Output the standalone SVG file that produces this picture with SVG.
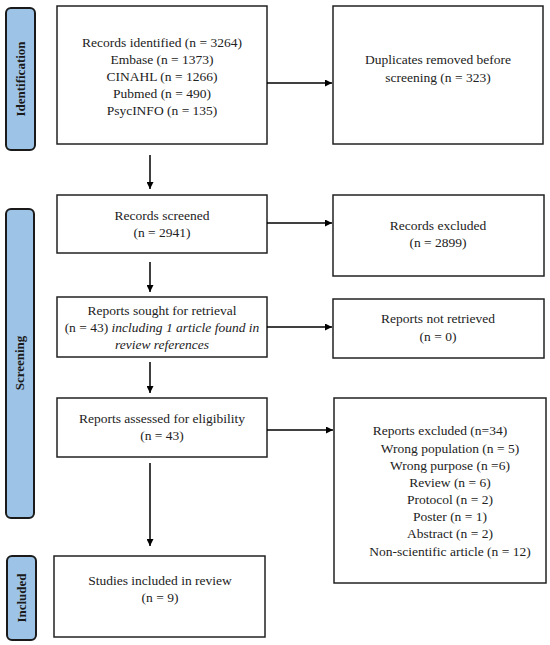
<svg xmlns="http://www.w3.org/2000/svg" width="550" height="645" viewBox="0 0 550 645">
<defs>
<style>
.box{fill:#fff;stroke:#222;stroke-width:1.5}
.side{fill:#9dc3e6;stroke:#1a1a1a;stroke-width:2}
.t{font-family:"Liberation Serif",serif;font-size:13.5px;fill:#222;text-anchor:middle}
.s{font-family:"Liberation Serif",serif;font-size:13px;font-weight:bold;fill:#1a1a1a;text-anchor:middle}
.c{stroke:#000;stroke-width:1.5;fill:none}
</style>
<marker id="ah" viewBox="0 0 10 10" refX="10" refY="5" markerWidth="7" markerHeight="7" markerUnits="userSpaceOnUse" orient="auto"><path d="M0,0L10,5L0,10z" fill="#000"/></marker>
</defs>
<g id="side-identification"><rect class="side" x="6" y="8" width="29" height="142" rx="5"/><text class="s" transform="translate(25,79) rotate(-90)">Identification</text></g>
<g id="side-screening"><rect class="side" x="6" y="209" width="28" height="309" rx="5"/><text class="s" transform="translate(24,363) rotate(-90)">Screening</text></g>
<g id="side-included"><rect class="side" x="7" y="556" width="29" height="84" rx="5"/><text class="s" transform="translate(26,598) rotate(-90)">Included</text></g>
<g id="identified"><rect class="box" x="57" y="6" width="210" height="138"/>
<text class="t" x="162" y="47">Records identified (n = 3264)</text>
<text class="t" x="162" y="64">Embase (n = 1373)</text>
<text class="t" x="162" y="81">CINAHL (n = 1266)</text>
<text class="t" x="162" y="98">Pubmed (n = 490)</text>
<text class="t" x="162" y="115">PsycINFO (n = 135)</text></g>
<g id="duplicates"><rect class="box" x="333" y="6" width="210" height="138"/>
<text class="t" x="438" y="64">Duplicates removed before</text>
<text class="t" x="438" y="82">screening (n = 323)</text></g>
<g id="screened"><rect class="box" x="57" y="195" width="210" height="58"/>
<text class="t" x="162" y="220">Records screened</text>
<text class="t" x="162" y="237">(n = 2941)</text></g>
<g id="excluded"><rect class="box" x="333" y="195" width="211" height="81"/>
<text class="t" x="438" y="230">Records excluded</text>
<text class="t" x="438" y="247">(n = 2899)</text></g>
<g id="sought"><rect class="box" x="57" y="297" width="210" height="60"/>
<text class="t" x="162" y="315">Reports sought for retrieval</text>
<text class="t" x="162" y="332">(n = 43) <tspan font-style="italic">including 1 article found in</tspan></text>
<text class="t" x="162" y="349" font-style="italic">review references</text></g>
<g id="notretrieved"><rect class="box" x="333" y="299" width="211" height="59"/>
<text class="t" x="438" y="323">Reports not retrieved</text>
<text class="t" x="438" y="341">(n = 0)</text></g>
<g id="assessed"><rect class="box" x="57" y="398" width="210" height="59"/>
<text class="t" x="162" y="423">Reports assessed for eligibility</text>
<text class="t" x="162" y="440">(n = 43)</text></g>
<g id="reportsexcluded"><rect class="box" x="334" y="398" width="212" height="185"/>
<text class="t" x="440" y="435">Reports excluded (n=34)</text>
<text class="t" x="450" y="453">Wrong population (n = 5)</text>
<text class="t" x="450" y="470">Wrong purpose (n =6)</text>
<text class="t" x="450" y="487">Review (n = 6)</text>
<text class="t" x="450" y="504">Protocol (n = 2)</text>
<text class="t" x="450" y="521">Poster (n = 1)</text>
<text class="t" x="450" y="538">Abstract (n = 2)</text>
<text class="t" x="450" y="556">Non-scientific article (n = 12)</text></g>
<g id="included"><rect class="box" x="54" y="556" width="211" height="81"/>
<text class="t" x="160" y="585">Studies included in review</text>
<text class="t" x="160" y="602">(n = 9)</text></g>
<g id="connectors">
<line class="c" x1="267" y1="83" x2="332" y2="83" marker-end="url(#ah)"/>
<line class="c" x1="150" y1="155" x2="150" y2="189" marker-end="url(#ah)"/>
<line class="c" x1="267" y1="223" x2="332" y2="223" marker-end="url(#ah)"/>
<line class="c" x1="150" y1="262" x2="150" y2="292" marker-end="url(#ah)"/>
<line class="c" x1="267" y1="327" x2="332" y2="327" marker-end="url(#ah)"/>
<line class="c" x1="150" y1="362" x2="150" y2="393" marker-end="url(#ah)"/>
<line class="c" x1="267" y1="430" x2="333" y2="430" marker-end="url(#ah)"/>
<line class="c" x1="150" y1="463" x2="150" y2="546" marker-end="url(#ah)"/>
</g>
</svg>
